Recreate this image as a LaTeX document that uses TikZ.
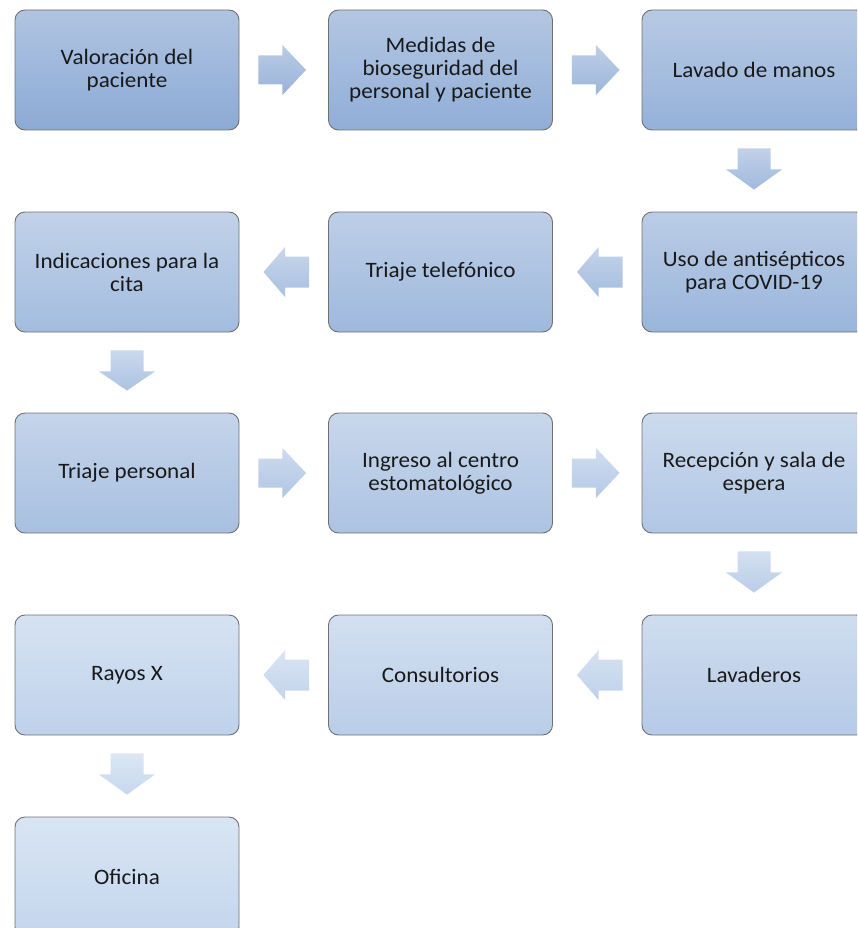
\documentclass[tikz,border=0pt]{standalone}
\usepackage{fontspec}
\setmainfont{Carlito}[FakeStretch=1.05]
\usetikzlibrary{calc}
\definecolor{topA}{RGB}{176,196,225}
\definecolor{botA}{RGB}{140,170,213}
\definecolor{topB}{RGB}{217,229,243}
\definecolor{botB}{RGB}{195,213,237}
\definecolor{edge}{RGB}{112,112,112}
\definecolor{txt}{RGB}{25,25,25}
\tikzset{
  stepbox/.style={draw=edge, line width=0.9pt, rounded corners=10pt,
    minimum width=224pt, minimum height=120pt, inner sep=0pt,
    align=center, text=txt,
    font=\fontsize{22}{23}\selectfont,
    top color=topB!#1!topA, bottom color=botB!#1!botA},
  flowarrow/.style={top color=topB!#1!topA!88!white, bottom color=botB!#1!botA!92!white, draw=none}
}
% inside let, coordinates are canvas pt (y grows upward)
\newcommand{\arrowR}[3]{%
  \path[flowarrow=#3] let \p1=(#1.east), \p2=(#2.west) in
    (\x1+19,\y1-14.5) -- (\x1+43,\y1-14.5) -- (\x1+43,\y1-25) -- (\x2-22,\y1)
    -- (\x1+43,\y1+25) -- (\x1+43,\y1+14.5) -- (\x1+19,\y1+14.5) -- cycle;}
\newcommand{\arrowL}[3]{%
  \path[flowarrow=#3] let \p1=(#1.west), \p2=(#2.east) in
    (\x1-19,\y1-15.5) -- (\x1-43,\y1-15.5) -- (\x1-43,\y1-25) -- (\x2+24,\y1)
    -- (\x1-43,\y1+25) -- (\x1-43,\y1+15.5) -- (\x1-19,\y1+15.5) -- cycle;}
\newcommand{\arrowD}[3]{%
  \path[flowarrow=#3] let \p1=(#1.south), \p2=(#2.north) in
    (\x1-16.5,\y1-18) -- (\x1+16.5,\y1-18) -- (\x1+16.5,\y1-39) -- (\x1+28,\y1-39)
    -- (\x1,\y2+22) -- (\x1-28,\y1-39) -- (\x1-16.5,\y1-39) -- cycle;}
\begin{document}
\begin{tikzpicture}[x=1pt,y=-1pt]
\useasboundingbox (0,0) rectangle (857,928);
\clip (0,0) rectangle (857,928);
\node[stepbox=0]  (n1)  at (127,70)   {Valoración del\\paciente};
\node[stepbox=8]  (n2)  at (440.5,70) {Medidas de\\bioseguridad del\\personal y paciente};
\node[stepbox=17] (n3)  at (754,70)   {Lavado de manos};
\node[stepbox=25] (n4)  at (754,272)  {Uso de antisépticos\\para COVID-19};
\node[stepbox=33] (n5)  at (440.5,272){Triaje telefónico};
\node[stepbox=42] (n6)  at (127,272)  {Indicaciones para la\\cita};
\node[stepbox=50] (n7)  at (127,473)  {Triaje personal};
\node[stepbox=58] (n8)  at (440.5,473){Ingreso al centro\\estomatológico};
\node[stepbox=67] (n9)  at (754,473)  {Recepción y sala de\\espera};
\node[stepbox=75] (n10) at (754,675)  {Lavaderos};
\node[stepbox=83] (n11) at (440.5,675){Consultorios};
\node[stepbox=92] (n12) at (127,675)  {Rayos X};
\node[stepbox=100](n13) at (127,877)  {Oficina};

\arrowR{n1}{n2}{4}
\arrowR{n2}{n3}{12}
\arrowD{n3}{n4}{21}
\arrowL{n4}{n5}{29}
\arrowL{n5}{n6}{38}
\arrowD{n6}{n7}{46}
\arrowR{n7}{n8}{54}
\arrowR{n8}{n9}{62}
\arrowD{n9}{n10}{71}
\arrowL{n10}{n11}{79}
\arrowL{n11}{n12}{88}
\arrowD{n12}{n13}{96}
\end{tikzpicture}
\end{document}
